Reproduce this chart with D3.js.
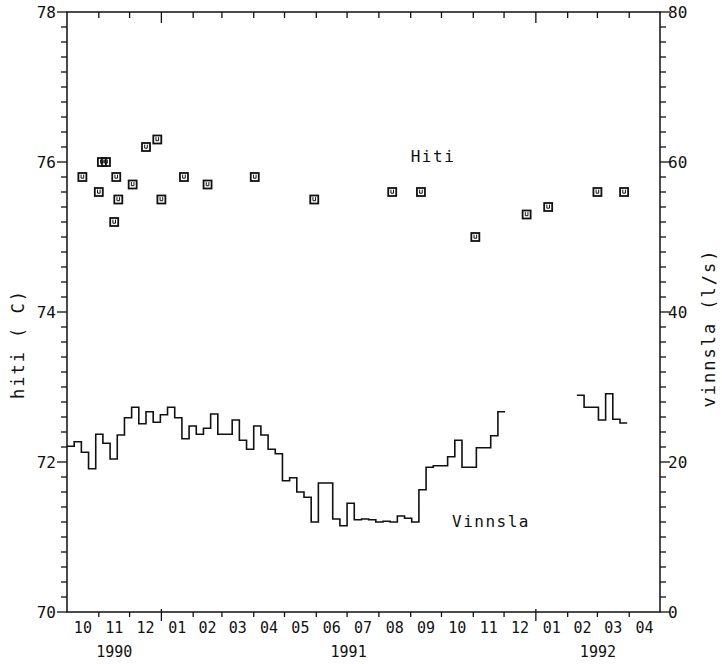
<!DOCTYPE html>
<html>
<head>
<meta charset="utf-8">
<script src="https://d3js.org/d3.v7.min.js"></script>
<style>
  body { margin: 0; background: #fff; }
  svg { display: block; }
  text { font-family: 'DejaVu Sans Mono', monospace; fill: #111; }
</style>
</head>
<body>
<svg id="chart" width="722" height="664"></svg>
<script>
// hiti (C), spot measurements
var hitiDates = ["1990-10-16","1990-11-01","1990-11-04","1990-11-08","1990-11-16","1990-11-18",
  "1990-11-20","1990-12-04","1990-12-17","1990-12-28","1991-01-01","1991-01-23","1991-02-15",
  "1991-04-02","1991-05-30","1991-08-14","1991-09-11","1991-11-03","1991-12-23","1992-01-13",
  "1992-03-01","1992-03-27"];
var hitiValues = [75.8, 75.6, 76.0, 76.0, 75.2, 75.8, 75.5, 75.7, 76.2, 76.3, 75.5, 75.8, 75.7,
  75.8, 75.5, 75.6, 75.6, 75.0, 75.3, 75.4, 75.6, 75.6];

// vinnsla (l/s), weekly values from 1990-10-01, null = no data
var vinnslaStart = "1990-10-01";
var vinnslaWeekly = [
  22.1, 22.7, 21.3, 19.1, 23.7, 22.5, 20.4, 23.6, 25.9, 27.3,
  25.1, 26.7, 25.3, 26.3, 27.3, 25.9, 23.1, 24.8, 23.7, 24.5,
  26.4, 23.7, 23.7, 25.6, 22.9, 21.7, 24.8, 23.6, 21.7, 21.1,
  17.5, 17.9, 16.0, 15.3, 12.0, 17.2, 17.2, 12.4, 11.5, 14.5,
  12.3, 12.4, 12.3, 12.0, 12.1, 12.0, 12.8, 12.5, 12.0, 16.3,
  19.3, 19.5, 19.5, 20.7, 22.9, 19.3, 19.3, 21.9, 21.9, 23.5,
  26.7, null, null, null, null, null, null, null, null, null,
  null, 28.9, 27.3, 27.3, 25.6, 29.1, 25.7, 25.2
];

var monthLabels = ["10","11","12","01","02","03","04","05","06","07","08","09","10","11","12","01","02","03","04"];
var yearLabels = ["1990", "1991", "1992"];
var leftTicks = [70, 72, 74, 76, 78];
var rightTicks = [0, 20, 40, 60, 80];

var parse = d3.timeParse("%Y-%m-%d");
var svg = d3.select("#chart");
var pLeft = 67, pRight = 660, pTop = 12, pBottom = 612;

var x = d3.scaleTime()
  .domain([parse("1990-10-01"), parse("1992-05-01")])
  .range([pLeft, pRight]);
var yL = d3.scaleLinear().domain([70, 78]).range([pBottom, pTop]);
var yR = d3.scaleLinear().domain([0, 80]).range([pBottom, pTop]);

// frame
svg.append("rect")
  .attr("x", pLeft).attr("y", pTop)
  .attr("width", pRight - pLeft).attr("height", pBottom - pTop)
  .attr("fill", "none").attr("stroke", "#111").attr("stroke-width", 1.5);

// left axis ticks (every 0.2)
var lt = d3.range(70, 78.01, 0.2);
svg.append("g").selectAll("line").data(lt).join("line")
  .attr("x1", pLeft)
  .attr("x2", function (d) { return Math.abs(d - Math.round(d / 2) * 2) < 0.01 ? pLeft - 10 : pLeft - 6; })
  .attr("y1", function (d) { return yL(d); }).attr("y2", function (d) { return yL(d); })
  .attr("stroke", "#111").attr("stroke-width", 1.3);
svg.append("g").selectAll("text").data(leftTicks).join("text")
  .attr("x", pLeft - 11).attr("y", function (d) { return yL(d); })
  .attr("dy", "0.36em").attr("text-anchor", "end")
  .style("font-size", "16px").text(function (d) { return d; });

// right axis ticks (every 2)
var rt = d3.range(0, 80.01, 2);
svg.append("g").selectAll("line").data(rt).join("line")
  .attr("x1", pRight)
  .attr("x2", function (d) { return d % 20 === 0 ? pRight + 10 : pRight + 6; })
  .attr("y1", function (d) { return yR(d); }).attr("y2", function (d) { return yR(d); })
  .attr("stroke", "#111").attr("stroke-width", 1.3);
svg.append("g").selectAll("text").data(rightTicks).join("text")
  .attr("x", pRight + 8).attr("y", function (d) { return yR(d); })
  .attr("dy", "0.36em")
  .style("font-size", "16px").text(function (d) { return d; });

// month ticks on top and bottom
var months = d3.timeMonth.range(parse("1990-11-01"), parse("1992-05-01"));
var gm = svg.append("g");
gm.selectAll("line.b").data(months).join("line").attr("class", "b")
  .attr("x1", function (d) { return x(d); }).attr("x2", function (d) { return x(d); })
  .attr("y1", function (d) { return d.getMonth() === 0 ? pBottom - 3 : pBottom; })
  .attr("y2", function (d) { return d.getMonth() === 0 ? pBottom + 9 : pBottom + 5; })
  .attr("stroke", "#111").attr("stroke-width", 1.3);
gm.selectAll("line.t").data(months).join("line").attr("class", "t")
  .attr("x1", function (d) { return x(d); }).attr("x2", function (d) { return x(d); })
  .attr("y1", pTop)
  .attr("y2", function (d) { return d.getMonth() === 0 ? pTop + 11 : pTop + 6; })
  .attr("stroke", "#111").attr("stroke-width", 1.3);

// month labels centred in each month
var monthStarts = d3.timeMonth.range(parse("1990-10-01"), parse("1992-05-01"));
svg.append("g").selectAll("text").data(monthStarts).join("text")
  .attr("x", function (d) { return (x(d) + x(d3.timeMonth.offset(d, 1))) / 2; })
  .attr("y", 633).attr("text-anchor", "middle")
  .style("font-size", "15px")
  .text(function (d, i) { return monthLabels[i]; });

// year labels centred on the visible part of each year
var yearSpans = [
  [parse("1990-10-01"), parse("1991-01-01")],
  [parse("1991-01-01"), parse("1992-01-01")],
  [parse("1992-01-01"), parse("1992-05-01")]
];
svg.append("g").selectAll("text").data(yearSpans).join("text")
  .attr("x", function (d) { return (x(d[0]) + x(d[1])) / 2; })
  .attr("y", 657).attr("text-anchor", "middle")
  .style("font-size", "15px")
  .text(function (d, i) { return yearLabels[i]; });

// vinnsla step line
var t0 = parse(vinnslaStart);
var pts = [];
vinnslaWeekly.forEach(function (v, i) {
  if (v === null) {
    if (pts.length && pts[pts.length - 1].v !== null) {
      pts.push({ d: d3.timeDay.offset(t0, 7 * i), v: pts[pts.length - 1].v });
    }
    pts.push({ d: d3.timeDay.offset(t0, 7 * i), v: null });
  } else {
    pts.push({ d: d3.timeDay.offset(t0, 7 * i), v: v });
  }
});
pts.push({ d: d3.timeDay.offset(t0, 7 * vinnslaWeekly.length), v: vinnslaWeekly[vinnslaWeekly.length - 1] });

var line = d3.line()
  .defined(function (d) { return d.v !== null; })
  .x(function (d) { return x(d.d); })
  .y(function (d) { return yR(d.v); })
  .curve(d3.curveStepAfter);
svg.append("path").datum(pts)
  .attr("d", line)
  .attr("fill", "none").attr("stroke", "#111").attr("stroke-width", 1.6);

// hiti markers
var hiti = hitiDates.map(function (s, i) { return { d: parse(s), v: hitiValues[i] }; });
var mk = svg.append("g").selectAll("g").data(hiti).join("g")
  .attr("transform", function (d) { return "translate(" + x(d.d) + "," + yL(d.v) + ")"; });
mk.append("rect")
  .attr("x", -4).attr("y", -4).attr("width", 8).attr("height", 8)
  .attr("fill", "none").attr("stroke", "#111").attr("stroke-width", 1.8);
mk.append("path")
  .attr("d", "M-1.3,-2.4 V1.2 H1.3 V-2.4")
  .attr("fill", "none").attr("stroke", "#111").attr("stroke-width", 1);

// series labels
svg.append("text").attr("x", 433).attr("y", 162).attr("text-anchor", "middle")
  .style("font-size", "16px").style("letter-spacing", "1.5px").text("Hiti");
svg.append("text").attr("x", 491).attr("y", 527).attr("text-anchor", "middle")
  .style("font-size", "16px").style("letter-spacing", "1.5px").text("Vinnsla");

// axis titles
svg.append("text")
  .attr("transform", "translate(24,344) rotate(-90)")
  .attr("text-anchor", "middle")
  .style("font-size", "17px").style("letter-spacing", "2px")
  .text("hiti  ( C)");
svg.append("text")
  .attr("transform", "translate(715,328) rotate(-90)")
  .attr("text-anchor", "middle")
  .style("font-size", "17px").style("letter-spacing", "2px")
  .text("vinnsla  (l/s)");
</script>
</body>
</html>
